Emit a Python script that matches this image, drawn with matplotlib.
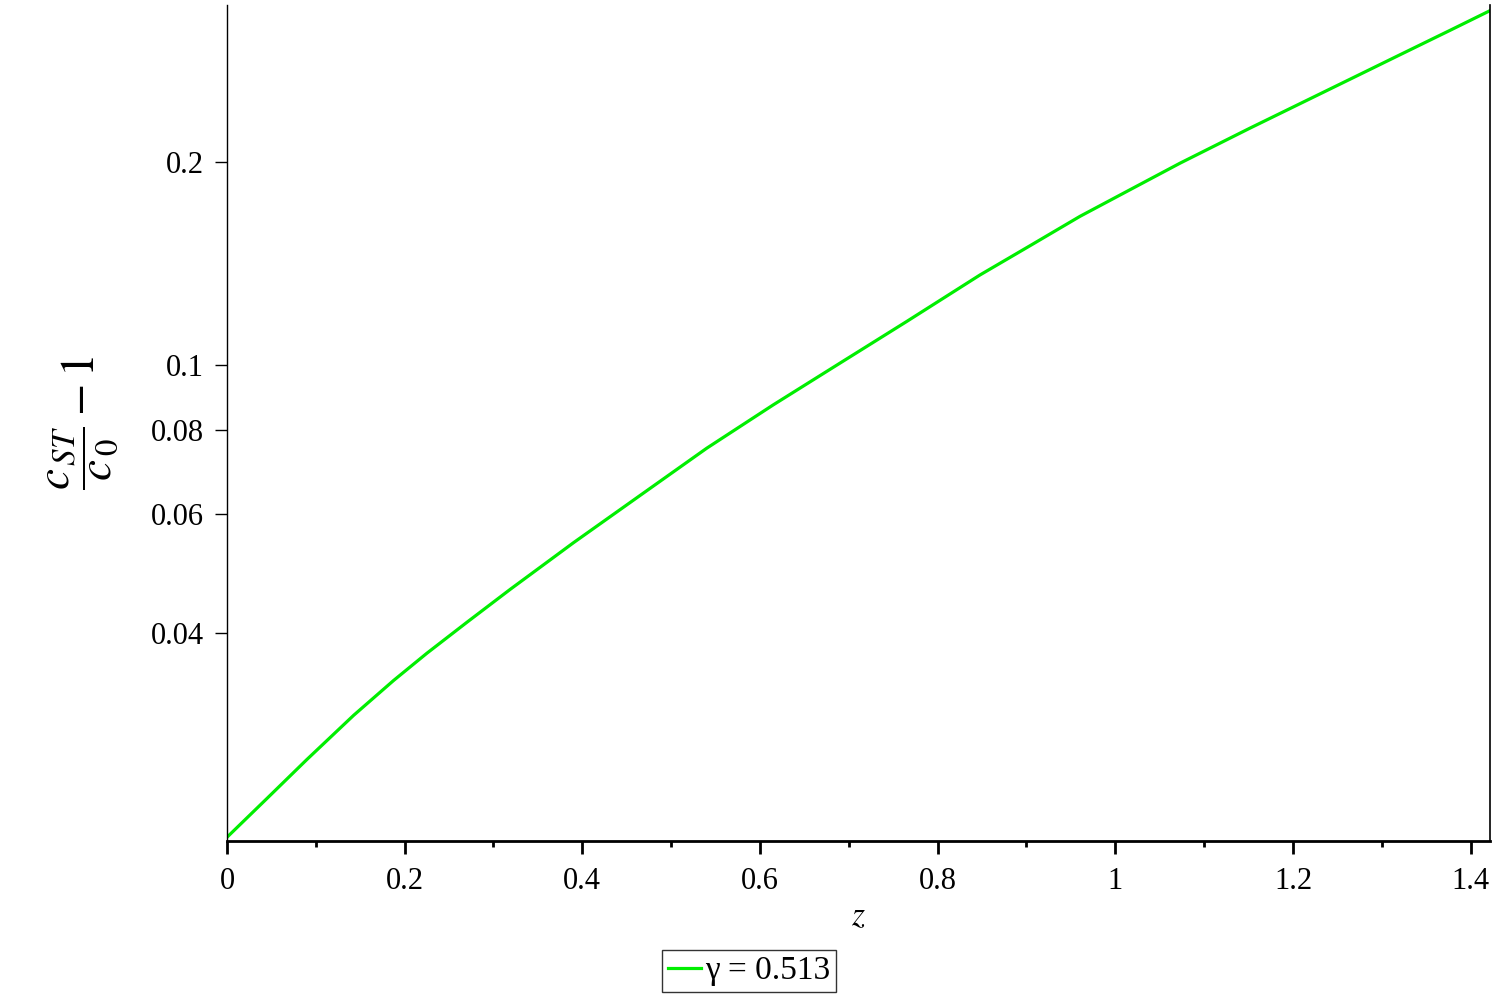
import numpy as np
import matplotlib
matplotlib.use('Agg')
import matplotlib.pyplot as plt

plt.rcParams['font.family'] = ['Liberation Serif', 'DejaVu Serif']
plt.rcParams['mathtext.fontset'] = 'stix'

# values (log scale on y)
z = [0.0, 0.0450, 0.0900, 0.1426, 0.1876, 0.2251, 0.2701, 0.3189, 0.3639,
     0.3898, 0.4649, 0.5400, 0.6149, 0.6900, 0.7651, 0.8476, 0.9039, 0.9602,
     1.0164, 1.0727, 1.1515, 1.2078, 1.2641, 1.3204, 1.3766, 1.4209]
ratio = [0.01988, 0.02270, 0.02594, 0.03017, 0.03399, 0.03731, 0.04147,
         0.04642, 0.05134, 0.05441, 0.06397, 0.07520, 0.08722, 0.1006, 0.1160,
         0.1360, 0.1503, 0.1662, 0.1820, 0.1993, 0.2247, 0.2443, 0.2656,
         0.2888, 0.3139, 0.3354]
yticks = [0.04, 0.06, 0.08, 0.1, 0.2]
ytick_labels = ['0.04', '0.06', '0.08', '0.1', '0.2']
xticks = [0, 0.2, 0.4, 0.6, 0.8, 1.0, 1.2, 1.4]
xtick_labels = ['0', '0.2', '0.4', '0.6', '0.8', '1', '1.2', '1.4']

fig = plt.figure(figsize=(15, 10), dpi=100)
ax = fig.add_axes([0.1513, 0.159, 0.8420, 0.836])
ax.plot(z, ratio, color='#00ee00', lw=2.3, label='γ = 0.513')

ax.set_yscale('log')
ax.set_xlim(0, 1.4217)
ax.set_ylim(0.01963, 0.3424)
ax.set_yticks(yticks)
ax.set_yticklabels(ytick_labels)
ax.yaxis.set_minor_locator(matplotlib.ticker.NullLocator())
ax.set_xticks(xticks)
ax.set_xticklabels(xtick_labels)
ax.set_xticks(np.arange(0.1, 1.42, 0.2), minor=True)

ax.spines['top'].set_visible(False)
ax.spines['bottom'].set_linewidth(2.0)
ax.spines['left'].set_linewidth(1.0)
ax.spines['right'].set_linewidth(1.2)
ax.tick_params(axis='x', which='major', length=9, width=2, labelsize=22, pad=10)
ax.tick_params(axis='x', which='minor', length=4.5, width=2)
ax.tick_params(axis='y', which='major', length=8.5, width=1, labelsize=22, pad=8)

ax.set_xlabel('$z$', fontsize=24, labelpad=4)
ax.set_ylabel(r'$\dfrac{c_{\,ST}}{\,c_{\,0}\,} - 1$', fontsize=34, labelpad=22)

leg = fig.legend(loc='center', bbox_to_anchor=(0.4993, 0.029), fontsize=24,
                 frameon=True, fancybox=False, edgecolor='black',
                 handlelength=1.0, handletextpad=0.1, borderpad=0.18,
                 borderaxespad=0)
leg.get_frame().set_linewidth(1.0)

fig.savefig('out.png', dpi=100)
